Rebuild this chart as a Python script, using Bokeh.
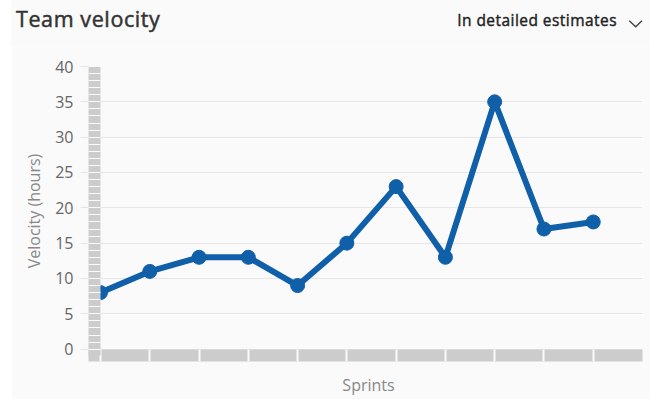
from bokeh.plotting import figure
from bokeh.layouts import row, column
from bokeh.models import (Range1d, SingleIntervalTicker, FixedTicker,
                          ColumnDataSource, Spacer, Div)
from bokeh.embed import file_html
from bokeh.resources import INLINE

# ---- data ----
sprints = list(range(11))
velocity = [8, 11, 13, 13, 9, 15, 23, 13, 35, 17, 18]
y_ticks_step = 5
title_text = "Team velocity"
menu_text = "In detailed estimates"
x_label = "Sprints"
y_label = "Velocity (hours)"

BG = "#fafafa"
BLUE = "#105fa9"
BAR = "#cccccc"
GRID = "#e6e6e6"

STRIP = 11            # white strip at the left of the card
W = 650 - STRIP       # card width
HEAD_H = 46           # header height
MAIN_H = 399 - HEAD_H
FL, FR, FT, FB = 83, 631, 20, 309  # frame edges inside the main figure

# ---------------- header ----------------
head_html = f"""
<div style="position:relative;width:{W}px;height:{HEAD_H}px;background:{BG};
            font-family:'Open Sans';margin:0;padding:0;overflow:hidden;">
  <span style="position:absolute;left:5px;top:8px;font-size:21.5px;line-height:21.5px;
               font-weight:400;letter-spacing:0.6px;-webkit-text-stroke:0.5px #333333;
               color:#333333;white-space:nowrap;">{title_text}</span>
  <span style="position:absolute;right:33px;top:13px;font-size:15.5px;line-height:15.5px;
               font-weight:400;letter-spacing:0.45px;-webkit-text-stroke:0.4px #222222;
               color:#222222;white-space:nowrap;">{menu_text}</span>
  <svg style="position:absolute;left:617px;top:18.5px;" width="16" height="10">
    <polyline points="1.3,1.7 7.7,7.7 14,1.7" fill="none" stroke="#444444"
              stroke-width="1.4"/>
  </svg>
</div>
"""
head = Div(text=head_html, width=W, height=HEAD_H, margin=0,
           styles={"background-color": BG})

# ---------------- main chart ----------------
src = ColumnDataSource(dict(x=sprints, y=velocity))

p = figure(width=W, height=MAIN_H, output_backend="svg", toolbar_location=None,
           x_range=Range1d(-0.122, 11), y_range=Range1d(-0.9, 40),
           min_border_left=FL, min_border_right=W - FR,
           min_border_top=FT, min_border_bottom=MAIN_H - FB,
           background_fill_color=BG, border_fill_color=BG,
           outline_line_color=None, margin=0)

p.xgrid.grid_line_color = None
p.ygrid.grid_line_color = GRID
p.ygrid.grid_line_width = 1

# y axis: thick grey bar with a gap at every unit
ya = p.yaxis[0]
ya.ticker = SingleIntervalTicker(interval=y_ticks_step, num_minor_ticks=5)
ya.axis_line_color = BAR
ya.axis_line_width = 12
ya.major_tick_line_color = GRID
ya.major_tick_line_width = 1
ya.major_tick_in = 6
ya.major_tick_out = 14
ya.minor_tick_line_color = BG
ya.minor_tick_line_width = 1
ya.minor_tick_in = 6
ya.minor_tick_out = 6
ya.major_label_standoff = 7
ya.major_label_text_font = "Open Sans"
ya.major_label_text_font_size = "16px"
ya.major_label_text_color = "#666666"
ya.axis_label = y_label
ya.axis_label_text_font = "Open Sans"
ya.axis_label_text_font_size = "16px"
ya.axis_label_text_font_style = "normal"
ya.axis_label_text_color = "#888888"
ya.axis_label_standoff = 7

# x axis: thick grey bar split per sprint
xa = p.xaxis[0]
xa.ticker = FixedTicker(ticks=sprints, minor_ticks=[])
xa.bounds = (-0.122, 10.878)
xa.axis_line_color = BAR
xa.axis_line_width = 12
xa.axis_line_cap = "square"
xa.major_tick_line_color = BG
xa.major_tick_line_width = 2
xa.major_tick_in = 6
xa.major_tick_out = 6
xa.minor_tick_line_color = None
xa.major_label_text_color = None
xa.major_label_text_font_size = "1px"
xa.major_label_standoff = 0
xa.axis_label = x_label
xa.axis_label_text_font = "Open Sans"
xa.axis_label_text_font_size = "16px"
xa.axis_label_text_font_style = "normal"
xa.axis_label_text_color = "#888888"
xa.axis_label_standoff = 12

# series
p.line("x", "y", source=src, line_color=BLUE, line_width=6, line_join="round")
p.scatter("x", "y", source=src, size=14, fill_color=BLUE, line_color=BLUE)

layout = row(Spacer(width=STRIP, height=399, margin=0),
             column(head, p, spacing=0, margin=0), spacing=0, margin=0)

open("out.html", "w").write(file_html(layout, INLINE))
